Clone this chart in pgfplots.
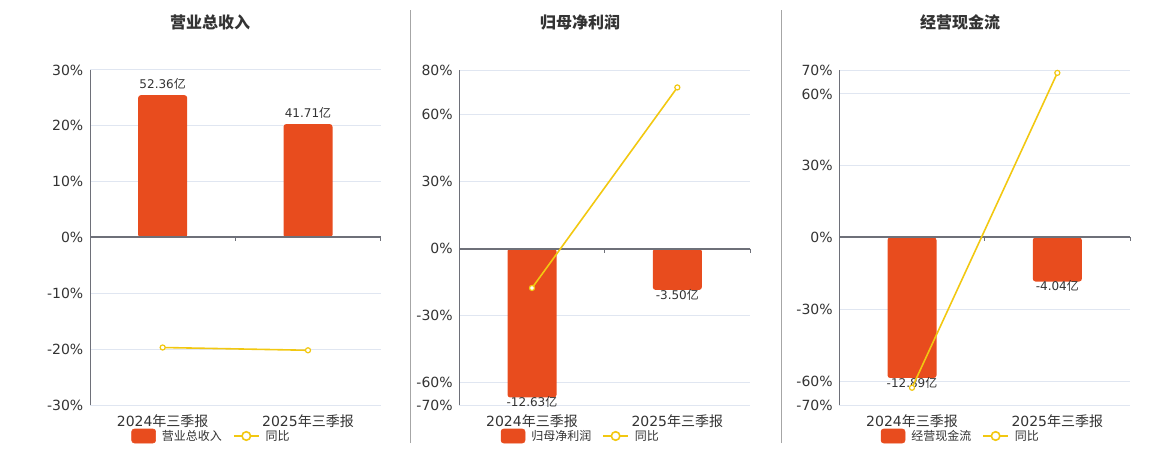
\documentclass[border=0pt]{standalone}
\usepackage{fontspec}
\setmainfont{DejaVu Sans}
\newfontfamily\cjk{Noto Sans CJK SC}
\usepackage{pgfplots}
\pgfplotsset{compat=1.18}
\definecolor{barc}{HTML}{E84C1E}
\definecolor{linec}{HTML}{F2C811}
\definecolor{gridc}{HTML}{E0E6F1}
\definecolor{axc}{HTML}{6E7079}
\definecolor{txt}{HTML}{333333}
\definecolor{sepc}{HTML}{A6A6A6}

\pgfplotsset{
  base/.style={
    scale only axis, width=218pt, height=251.25pt,
    xmin=-0.5, xmax=1.5, anchor=south west, clip=false,
  },
  bgaxis/.style={base,
    axis y line*=left, axis x line*=bottom,
    x axis line style={draw=none},
    y axis line style={draw=axc, line width=0.75pt},
    xtick={0,1}, xticklabels={{2024{\cjk 年三季报}},{2025{\cjk 年三季报}}},
    major tick style={draw=none},
    ymajorgrids, grid style={draw=gridc, line width=0.75pt},
    tick label style={font=\fontsize{10.5}{12}\selectfont, text=txt},
    yticklabel={\pgfmathparse{int(round(\tick))}\pgfmathresult\%},
    yticklabel style={xshift=-1.5pt},
    xticklabel style={anchor=center, yshift=-11.75pt},
  },
  baraxis/.style={base, hide axis, ybar, bar width=36.75pt,
    point meta=explicit symbolic,
    nodes near coords={\pgfplotspointmeta{\cjk 亿}},
    nodes near coords style={font=\fontsize{9}{10}\selectfont, text=txt, anchor=center},
  },
  lineaxis/.style={base, hide axis,
    legend columns=-1,
    legend style={at={(0.4145,0)}, anchor=center, yshift=-23.25pt,
      draw=none, fill=none, inner sep=0pt, outer sep=0pt,
      font=\fontsize{9}{10}\selectfont\cjk, text=txt,
      nodes={inner sep=0pt},
      /tikz/every odd column/.append style={column sep=4.5pt},
      /tikz/every even column/.append style={column sep=8.25pt}},
  },
  barleg/.style={legend image code/.code={\fill[barc, rounded corners=2pt] (0pt,-5.25pt) rectangle (18pt,5.25pt);}},
  yoy/.style={linec, line width=1.2pt, mark=*, mark size=1.9pt,
    mark options={fill=white, line width=0.9pt, solid},
    legend image code/.code={\draw[linec,line width=1.2pt] (0pt,0pt)--(18.75pt,0pt);
      \draw[linec,line width=1.2pt,fill=white] (9.4pt,0pt) circle (3.2pt);}},
  zeroline/.style={},
}
\newcommand{\zeroaxis}{%
  \draw[axc, line width=1.5pt] (axis cs:-0.5,0) -- (axis cs:1.5,0);
  \draw[axc, line width=0.75pt] (axis cs:0.5,0) -- ([yshift=-3pt]axis cs:0.5,0);
  \draw[axc, line width=0.75pt] (axis cs:1.5,0) -- ([yshift=-3pt]axis cs:1.5,0);
}

\begin{document}
\begin{tikzpicture}
% separators
\draw[sepc, line width=0.75pt] (308pt,5.25pt) -- (308pt,330pt);
\draw[sepc, line width=0.75pt] (585.75pt,5.25pt) -- (585.75pt,330pt);
% titles
\node[font=\fontsize{12}{14}\selectfont\cjk\bfseries, text=txt] at (157.5pt,321pt) {营业总收入};
\node[font=\fontsize{12}{14}\selectfont\cjk\bfseries, text=txt] at (435pt,321pt) {归母净利润};
\node[font=\fontsize{12}{14}\selectfont\cjk\bfseries, text=txt] at (720pt,321pt) {经营现金流};

% ================= Panel 1
\begin{axis}[bgaxis, at={(67.5pt,33.75pt)}, ymin=-30, ymax=30, ytick={-30,-20,-10,0,10,20,30}]
\addplot[draw=none] coordinates {(0,0)};
\end{axis}
\begin{axis}[baraxis, at={(67.5pt,33.75pt)}, ymin=-61.62, ymax=61.62,
  nodes near coords style={yshift=8.25pt}]
\addplot[fill=barc, draw=none, rounded corners=2pt] coordinates {(0,52.36) [52.36] (1,41.71) [41.71]};
\zeroaxis
\end{axis}
\begin{axis}[lineaxis, at={(67.5pt,33.75pt)}, ymin=-30, ymax=30]
\addlegendimage{barleg}
\addlegendentry{营业总收入}
\addplot[yoy] coordinates {(0,-19.7) (1,-20.2)};
\addlegendentry{同比}
\end{axis}

% ================= Panel 2
\begin{axis}[bgaxis, at={(344.5pt,33.75pt)}, ymin=-70, ymax=80, ytick={-70,-60,-30,0,30,60,80}]
\addplot[draw=none] coordinates {(0,0)};
\end{axis}
\begin{axis}[baraxis, at={(344.5pt,33.75pt)}, ymin=-13.272, ymax=15.168,
  nodes near coords style={yshift=-3.5pt}]
\addplot[fill=barc, draw=none, rounded corners=2pt] coordinates {(0,-12.63) [-12.63] (1,-3.50) [-3.50]};
\zeroaxis
\end{axis}
\begin{axis}[lineaxis, at={(344.5pt,33.75pt)}, ymin=-70, ymax=80]
\addlegendimage{barleg}
\addlegendentry{归母净利润}
\addplot[yoy] coordinates {(0,-17.6) (1,72.2)};
\addlegendentry{同比}
\end{axis}

% ================= Panel 3
\begin{axis}[bgaxis, at={(629.5pt,33.75pt)}, ymin=-70, ymax=70, ytick={-70,-60,-30,0,30,60,70}]
\addplot[draw=none] coordinates {(0,0)};
\end{axis}
\begin{axis}[baraxis, at={(629.5pt,33.75pt)}, ymin=-15.372, ymax=15.372,
  nodes near coords style={yshift=-3.5pt}]
\addplot[fill=barc, draw=none, rounded corners=2pt] coordinates {(0,-12.89) [-12.89] (1,-4.04) [-4.04]};
\zeroaxis
\end{axis}
\begin{axis}[lineaxis, at={(629.5pt,33.75pt)}, ymin=-70, ymax=70]
\addlegendimage{barleg}
\addlegendentry{经营现金流}
\addplot[yoy] coordinates {(0,-62.8) (1,68.8)};
\addlegendentry{同比}
\end{axis}

\pgfresetboundingbox
\useasboundingbox (0,0) rectangle (870pt,337.5pt);
\end{tikzpicture}
\end{document}
